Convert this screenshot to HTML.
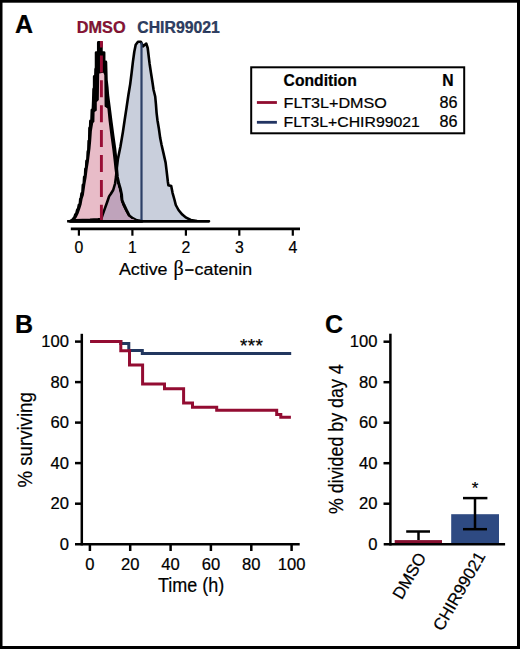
<!DOCTYPE html>
<html><head><meta charset="utf-8"><style>
html,body{margin:0;padding:0;background:#fff;}
svg{display:block;}
text{font-family:"Liberation Sans",sans-serif;stroke:#000;stroke-width:0.22px;}
</style></head><body>
<svg width="520" height="649" viewBox="0 0 520 649">
<defs>
<path id="chirp" d="M69.5,221.3 L75.2,220.2 L90.0,219.8 L98.0,219.3 L101.2,219.0 L102.6,214.9 L104.9,208.4 L107.2,202.0 L109.1,196.4 L110.9,193.7 L113.2,190.0 L115.1,183.5 L116.0,177.0 L116.7,169.0 L117.9,159.1 L120.4,146.8 L122.9,132.0 L124.7,119.7 L126.6,107.3 L128.4,95.0 L130.2,84.1 L131.6,73.0 L132.9,61.9 L134.3,51.7 L135.7,44.8 L138.0,41.8 L140.8,41.7 L143.1,46.3 L146.3,43.6 L147.7,48.0 L148.7,56.3 L149.6,63.7 L151.0,73.0 L152.3,81.3 L153.6,90.0 L155.2,96.5 L155.9,103.9 L156.6,113.1 L157.5,120.5 L158.9,128.8 L160.2,138.1 L161.6,145.0 L163.3,152.4 L165.6,162.6 L166.6,170.9 L167.9,182.0 L168.4,185.2 L171.2,186.1 L172.6,193.1 L174.4,199.5 L175.8,205.0 L178.5,210.0 L182.3,214.6 L186.2,217.7 L190.8,220.0 L197.0,221.0 L209.0,221.3 Z"/>
<clipPath id="chirclip"><use href="#chirp"/></clipPath>
<path id="dmsop" d="M70.5,221.3 L72.5,220.0 L74.5,217.4 L75.5,214.5 L76.6,213.0 L77.3,210.0 L78.3,208.5 L79.0,205.0 L80.0,204.0 L80.4,199.0 L81.1,198.0 L81.6,194.0 L82.6,192.0 L83.0,185.0 L83.9,184.0 L84.3,177.0 L85.2,176.0 L85.5,169.0 L86.3,168.0 L86.6,161.0 L87.5,160.0 L87.9,152.0 L88.5,150.0 L88.8,141.0 L89.4,140.0 L89.6,128.0 L90.3,128.0 L90.5,121.0 L91.6,121.0 L92.0,110.0 L93.0,110.0 L93.4,100.0 L93.7,89.0 L94.3,89.0 L94.3,76.5 L95.5,76.5 L95.7,69.0 L96.2,69.0 L96.2,52.6 L98.4,52.6 L98.4,42.5 L101.3,42.5 L101.3,52.6 L104.0,52.6 L104.0,62.0 L105.8,62.0 L106.3,80.0 L107.2,88.0 L107.7,95.0 L109.3,107.3 L111.2,122.1 L113.0,135.7 L114.9,149.3 L116.1,160.4 L116.7,169.0 L117.4,177.0 L118.8,183.5 L120.2,188.1 L121.6,194.6 L122.0,200.1 L123.9,204.7 L126.6,210.3 L129.4,215.8 L133.1,218.6 L136.8,220.5 L142.0,221.3 Z"/>
<path id="dmsoin" d="M75.0,219.8 L76.8,217.3 L78.6,213.5 L80.2,209.0 L81.6,204.5 L82.6,199.0 L83.9,195.0 L85.3,185.0 L86.6,177.5 L87.6,169.5 L88.9,161.5 L90.5,148.5 L91.2,141.0 L91.9,131.0 L93.2,123.0 L94.4,121.8 L94.6,112.0 L96.8,110.5 L96.8,102.0 L98.8,100.0 L99.2,73.5 L103.4,72.8 L104.3,75.0 L104.5,95.0 L104.6,106.5 L107.4,108.5 L108.6,121.0 L110.4,135.5 L112.3,149.2 L113.6,160.4 L114.5,169.0 L115.6,177.5 L117.1,184.0 L118.5,188.7 L119.9,195.0 L120.3,200.6 L122.2,205.4 L124.9,211.0 L127.7,216.3 L131.4,219.0 L135.0,219.9 Z"/>
</defs>
<rect x="0" y="0" width="520" height="649" fill="#fff"/>
<!-- frame -->
<rect x="0" y="0" width="2.5" height="649" fill="#000"/>
<rect x="0" y="0" width="520" height="2.7" fill="#000"/>
<rect x="517" y="0" width="3" height="649" fill="#000"/>
<rect x="0" y="646" width="520" height="3" fill="#000"/>

<!-- Panel letters -->
<text x="15" y="32.5" font-size="25" font-weight="bold">A</text>
<text x="15" y="333" font-size="25" font-weight="bold">B</text>
<text x="325" y="333" font-size="25" font-weight="bold">C</text>

<!-- ===== Panel A ===== -->
<text x="76.8" y="32.9" font-size="16.3" font-weight="bold" fill="#8e1236" stroke="#8e1236">DMSO</text>
<text x="137.3" y="32.9" font-size="15.8" font-weight="bold" fill="#2e4068" stroke="#2e4068">CHIR99021</text>

<!-- histograms -->
<use href="#chirp" fill="#c9cfdc"/>
<use href="#dmsop" fill="#000" stroke="#000" stroke-width="2.9" stroke-linejoin="round"/>
<use href="#dmsoin" fill="#e8bcc8"/>
<use href="#dmsoin" fill="#bfa3bb" clip-path="url(#chirclip)"/>
<use href="#chirp" fill="none" stroke="#000" stroke-width="2.6" stroke-linejoin="round"/>
<!-- medians -->
<line x1="141.5" y1="42.5" x2="141.5" y2="221" stroke="#2c3f66" stroke-width="2.2"/>
<line x1="101.4" y1="41" x2="101.4" y2="221" stroke="#990d35" stroke-width="2.9" stroke-dasharray="17,7.9" stroke-dashoffset="10.5"/>
<!-- baseline -->
<line x1="67.1" y1="221.3" x2="209.2" y2="221.3" stroke="#000" stroke-width="2.5"/>

<!-- axis A -->
<line x1="70.8" y1="228.9" x2="300" y2="228.9" stroke="#000" stroke-width="2.6"/>
<g stroke="#000" stroke-width="2.2">
<line x1="78.9" y1="229" x2="78.9" y2="235.7"/>
<line x1="132.4" y1="229" x2="132.4" y2="235.7"/>
<line x1="185.9" y1="229" x2="185.9" y2="235.7"/>
<line x1="239.3" y1="229" x2="239.3" y2="235.7"/>
<line x1="292.8" y1="229" x2="292.8" y2="235.7"/>
</g>
<g font-size="15.8" text-anchor="middle">
<text x="78.9" y="253">0</text>
<text x="132.4" y="253">1</text>
<text x="185.9" y="253">2</text>
<text x="239.3" y="253">3</text>
<text x="292.8" y="253">4</text>
</g>
<text x="118.9" y="274.6" font-size="17.4" textLength="48.6" lengthAdjust="spacingAndGlyphs">Active</text>
<text x="173.6" y="275.3" font-size="20" style="font-family:'Liberation Serif',serif">&#946;</text>
<rect x="185.2" y="269.2" width="8.4" height="1.7" fill="#000"/>
<text x="194.6" y="274.6" font-size="17.4" textLength="57.5" lengthAdjust="spacingAndGlyphs">catenin</text>

<!-- legend -->
<rect x="251.2" y="67.3" width="213" height="66" fill="none" stroke="#000" stroke-width="2"/>
<text x="283.6" y="85.7" font-size="15.7" font-weight="bold">Condition</text>
<text x="442.3" y="85.9" font-size="15.7" font-weight="bold">N</text>
<line x1="256.9" y1="102.5" x2="276.9" y2="102.5" stroke="#900c2f" stroke-width="2.8"/>
<line x1="256.9" y1="122.3" x2="276.9" y2="122.3" stroke="#223462" stroke-width="2.8"/>
<text x="283.6" y="107.8" font-size="14.8" textLength="103.2" lengthAdjust="spacingAndGlyphs">FLT3L+DMSO</text>
<text x="283.6" y="126.7" font-size="14.8" textLength="136.2" lengthAdjust="spacingAndGlyphs">FLT3L+CHIR99021</text>
<text x="457.6" y="108.1" font-size="16.2" text-anchor="end">86</text>
<text x="457.6" y="126.9" font-size="16.2" text-anchor="end">86</text>

<!-- ===== Panel B ===== -->
<g stroke="#000" stroke-width="2.5">
<line x1="81.8" y1="333.8" x2="81.8" y2="545.4"/>
<line x1="75" y1="544.2" x2="299.7" y2="544.2"/>
<line x1="75" y1="341.6" x2="81.8" y2="341.6"/>
<line x1="75" y1="382.1" x2="81.8" y2="382.1"/>
<line x1="75" y1="422.6" x2="81.8" y2="422.6"/>
<line x1="75" y1="463.1" x2="81.8" y2="463.1"/>
<line x1="75" y1="503.7" x2="81.8" y2="503.7"/>
<line x1="89.9" y1="544.2" x2="89.9" y2="551"/>
<line x1="130.2" y1="544.2" x2="130.2" y2="551"/>
<line x1="170.6" y1="544.2" x2="170.6" y2="551"/>
<line x1="210.9" y1="544.2" x2="210.9" y2="551"/>
<line x1="251.3" y1="544.2" x2="251.3" y2="551"/>
<line x1="291.6" y1="544.2" x2="291.6" y2="551"/>
</g>
<g font-size="16.6" text-anchor="end">
<text x="69" y="347">100</text>
<text x="69" y="387.6">80</text>
<text x="69" y="428.1">60</text>
<text x="69" y="468.6">40</text>
<text x="69" y="509.2">20</text>
<text x="69" y="549.5">0</text>
</g>
<g font-size="16.6" text-anchor="middle">
<text x="89.9" y="570">0</text>
<text x="130.2" y="570">20</text>
<text x="170.6" y="570">40</text>
<text x="210.9" y="570">60</text>
<text x="251.3" y="570">80</text>
<text x="291.6" y="570">100</text>
</g>
<text x="158" y="591.8" font-size="20.8" textLength="66.3" lengthAdjust="spacingAndGlyphs">Time (h)</text>
<text transform="translate(32.2,487.5) rotate(-90)" x="0" y="0" font-size="20.8" textLength="95.3" lengthAdjust="spacingAndGlyphs">% surviving</text>
<text x="240" y="352" font-size="19" letter-spacing="0.4">***</text>
<!-- KM curves -->
<polyline points="90.2,341.5 120.8,341.5 120.8,343.5 128.8,343.5 128.8,350.4 142.3,350.4 142.3,353.6 291.2,353.6" fill="none" stroke="#22375f" stroke-width="3"/>
<polyline points="90.2,341.5 120.8,341.5 120.8,350.8 129.5,350.8 129.5,365 142.6,365 142.6,384 164.5,384 164.5,388.7 183.6,388.7 183.6,403.1 192.5,403.1 192.5,407.3 216.7,407.3 216.7,410.2 276.7,410.2 276.7,414.5 280.8,414.5 280.8,417.2 290.9,417.2" fill="none" stroke="#930c32" stroke-width="3"/>

<!-- ===== Panel C ===== -->
<rect x="394.7" y="540.1" width="47.3" height="4" fill="#861030"/>
<rect x="451.2" y="514.2" width="47.8" height="30" fill="#2e4a82"/>
<g stroke="#000" stroke-width="2.5">
<line x1="390.4" y1="333.7" x2="390.4" y2="545.5"/>
<line x1="383.7" y1="544.3" x2="505.1" y2="544.3"/>
<line x1="383.5" y1="341.7" x2="390.4" y2="341.7"/>
<line x1="383.5" y1="382.2" x2="390.4" y2="382.2"/>
<line x1="383.5" y1="422.7" x2="390.4" y2="422.7"/>
<line x1="383.5" y1="463.2" x2="390.4" y2="463.2"/>
<line x1="383.5" y1="503.7" x2="390.4" y2="503.7"/>
<line x1="418.5" y1="540" x2="418.5" y2="531.5"/>
<line x1="406.2" y1="531.5" x2="430" y2="531.5"/>
<line x1="475" y1="498.1" x2="475" y2="529.2"/>
<line x1="463" y1="498.1" x2="487.4" y2="498.1"/>
<line x1="463" y1="529.2" x2="487" y2="529.2"/>
</g>
<g font-size="16.6" text-anchor="end">
<text x="377.5" y="347.2">100</text>
<text x="377.5" y="387.7">80</text>
<text x="377.5" y="428.2">60</text>
<text x="377.5" y="468.7">40</text>
<text x="377.5" y="509.2">20</text>
<text x="377.5" y="549.6">0</text>
</g>
<text x="475" y="494.2" font-size="17" text-anchor="middle">*</text>
<text transform="translate(342.8,514) rotate(-90)" x="0" y="0" font-size="20.8" textLength="149.7" lengthAdjust="spacingAndGlyphs">% divided by day 4</text>
<text transform="translate(426.8,557) rotate(-60)" x="0" y="0" font-size="16.8" text-anchor="end">DMSO</text>
<text transform="translate(486,556) rotate(-60)" x="0" y="0" font-size="16.8" text-anchor="end">CHIR99021</text>
</svg>
</body></html>
